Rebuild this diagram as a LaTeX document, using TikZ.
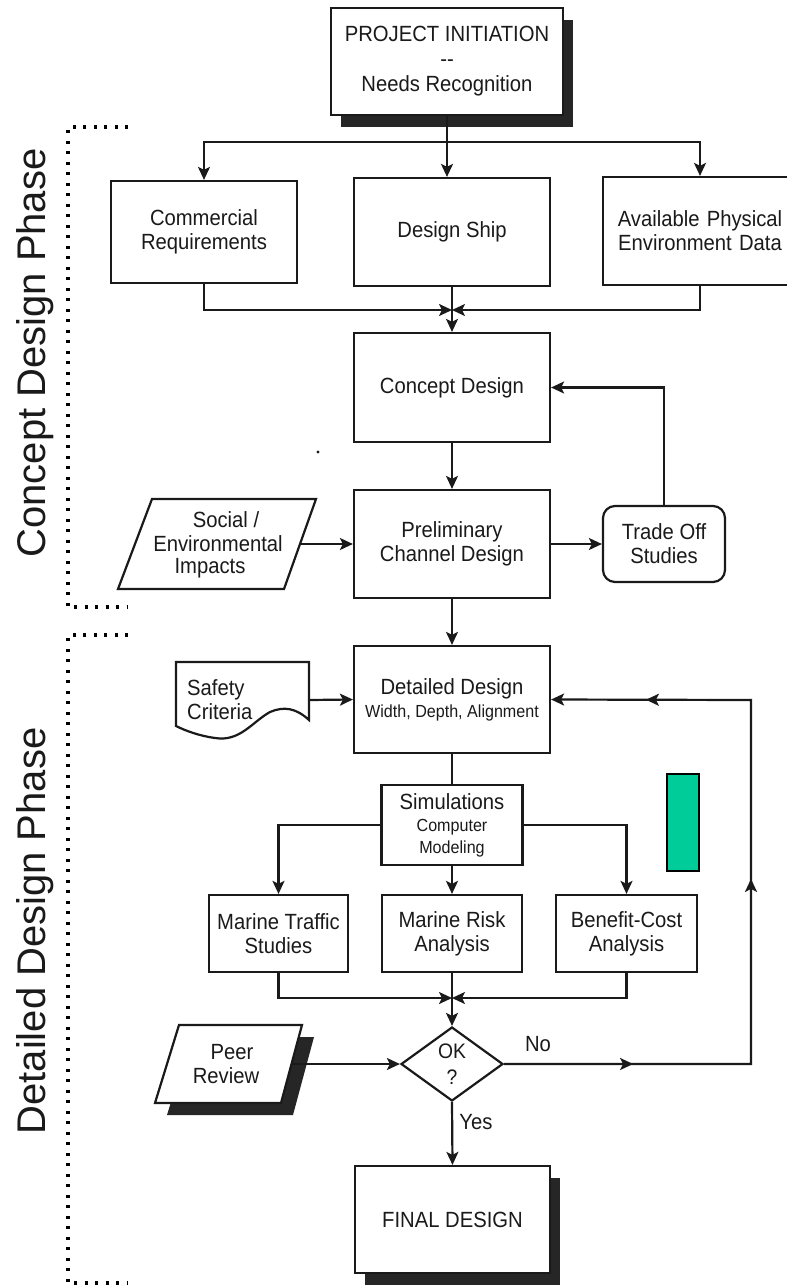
\documentclass[tikz,border=0pt]{standalone}
\usepackage{fontspec}
\setmainfont{Liberation Sans}[FakeStretch=0.92]
\newfontfamily\phasefont{Liberation Sans}
\usetikzlibrary{arrows.meta,shapes.geometric,decorations.markings,shadows}
\definecolor{shadowc}{HTML}{262626}
\definecolor{greenc}{HTML}{00CC99}
\definecolor{inkc}{HTML}{1A1A1A}
\tikzset{
  boxst/.style={draw=inkc, line width=2.2pt, rectangle, fill=white, inner sep=0pt, align=center, text=inkc, font=\fontsize{22}{24}\selectfont},
  shad/.style={drop shadow={opacity=1, fill=shadowc, shadow xshift=10pt, shadow yshift=-12pt}},
  conn/.style={draw=inkc, line width=2.2pt},
  tip/.style={},
  arr/.style={conn, -{Stealth[length=13pt,width=12pt,inset=3pt]}},
  txt/.style={text=inkc, inner sep=0pt, font=\fontsize{22}{24}\selectfont},
  dotline/.style={draw=black, line width=3.5pt, dash pattern=on 3pt off 7.5pt},
  phase/.style={text=inkc, inner sep=0pt, rotate=90, font=\phasefont\fontsize{40}{44}\selectfont},
}
\begin{document}
\begin{tikzpicture}[x=1pt,y=-1pt]
\clip (0,0) rectangle (787,1285);
\fill[white] (0,0) rectangle (787,1285);

% phase brackets and labels
\draw[dotline] (128,127) -- (68,127) -- (68,607) -- (128,607);
\draw[dotline] (128,635) -- (68,635) -- (68,1283) -- (128,1283);
\node[phase] (phase1) at (35,353) {Concept Design Phase};
\node[phase] (phase2) at (35,931) {Detailed Design Phase};

% top
\node[boxst, shad, minimum width=232pt, minimum height=107pt, font=\fontsize{22}{25}\selectfont] (top) at (447,61.5) {PROJECT INITIATION\\{-}{-}\\Needs Recognition};

\node[boxst, minimum width=186pt, minimum height=102pt] (cr) at (204,232) {Commercial\\Requirements};
\node[boxst, minimum width=196pt, minimum height=108pt] (ds) at (452,232) {Design Ship};
\node[boxst, minimum width=194pt, minimum height=108pt, text width=194pt] (ap) at (700,231) {Available Physical\\Environment Data};

\node[boxst, minimum width=196pt, minimum height=109pt] (concept) at (452,387.5) {Concept Design};
\node[boxst, minimum width=196pt, minimum height=108pt] (prelim) at (452,544) {Preliminary\\Channel Design};
\node[boxst, rounded corners=12pt, minimum width=122pt, minimum height=76pt] (trade) at (664,544) {Trade Off\\Studies};

% social / environmental parallelogram
\draw[line width=2.2pt, draw=inkc, fill=white] (152,499) -- (316,499) -- (284,589) -- (118,589) -- cycle;
\node[txt] (soc1) at (226,520) {Social /};
\node[txt] (soc2) at (218,544) {Environmental};
\node[txt] (soc3) at (210,568) {Impacts};
\coordinate (socR) at (300,544);

% stray dot
\fill[inkc] (318,452) circle (1.6pt);

\node[boxst, minimum width=196pt, minimum height=107pt] (detailed) at (452,699.5) {Detailed Design\\[-1pt]{\fontsize{17.5}{19}\selectfont Width, Depth, Alignment}};

% safety criteria document
\draw[line width=2.2pt, draw=inkc, fill=white] (176,662) -- (309,662) -- (309,720)
  .. controls (296,708) and (284,706) .. (270,712)
  .. controls (252,722) and (240,742) .. (215,738)
  .. controls (200,736) and (186,731) .. (176,726) -- cycle;
\node[txt, align=left, anchor=west] (safety) at (187,700) {Safety\\Criteria};
\coordinate (safR) at (309,700);

\node[boxst, minimum width=141pt, minimum height=80pt] (sim) at (452,825) {Simulations\\[-2pt]{\fontsize{17.5}{20}\selectfont Computer}\\[-2pt]{\fontsize{17.5}{20}\selectfont Modeling}};

\node[boxst, minimum width=139pt, minimum height=77pt] (mt) at (278.5,933.5) {Marine Traffic\\Studies};
\node[boxst, minimum width=140pt, minimum height=77pt] (mr) at (452,933.5) {Marine Risk\\Analysis};
\node[boxst, minimum width=141pt, minimum height=77pt] (bc) at (626.5,933.5) {Benefit-Cost\\Analysis};

% green rectangle
\draw[fill=greenc, draw=black, line width=1.5pt] (667,774) rectangle (699,871);

% peer review
\fill[shadowc] (191,1037) -- (314,1037) -- (293,1115) -- (167,1115) -- cycle;
\draw[line width=2.2pt, draw=inkc, fill=white] (179,1025) -- (302,1025) -- (281,1103) -- (155,1103) -- cycle;
\node[txt] (peer1) at (232,1052) {Peer};
\node[txt] (peer2) at (226,1076) {Review};
\coordinate (peerR) at (292,1064);

\node[diamond, draw=inkc, line width=2.2pt, fill=white, minimum width=102pt, minimum height=74pt, inner sep=0pt, align=center, text=inkc, font=\fontsize{21}{26}\selectfont] (ok) at (452,1064) {OK\\?};

\node[boxst, shad, minimum width=195pt, minimum height=107pt] (final) at (452.5,1219.5) {FINAL DESIGN};

% connectors
\coordinate (br) at (447,142);
\draw[conn] (top.south) -- (br);
\draw[arr] (br) -| (cr.north);
\draw[arr] (br) -| (ap.north);
\draw[arr] (br) -- (br |- ds.north);

\coordinate (m1) at (452,310);
\draw[arr] (cr.south) |- (m1);
\draw[arr] (ap.south) |- (m1);
\draw[arr] (ds.south) -- (concept.north);

\draw[arr] (concept.south) -- (prelim.north);
\draw[arr] (socR) -- (prelim.west);
\draw[arr] (prelim.east) -- (trade.west);
\draw[arr] (trade.north) |- (concept.east);
\draw[arr] (prelim.south) -- (detailed.north);
\draw[arr] (safR) -- (detailed.west);
\draw[conn] (detailed.south) -- (sim.north);
\draw[arr] (sim.west) -| (mt.north);
\draw[arr] (sim.east) -| (bc.north);
\draw[arr] (sim.south) -- (mr.north);

\coordinate (m2) at (452,998);
\draw[arr] (mt.south) |- (m2);
\draw[arr] (bc.south) |- (m2);
\draw[arr] (mr.south) -- (ok.north);

\draw[arr] (peerR) -- (ok.west);

\coordinate (nR) at (751,1064);
\coordinate (nT) at (751,700);
\draw[arr, postaction={decorate}, decoration={markings,
   mark=at position 129pt with {\arrow{Stealth[length=13pt,width=12pt,inset=3pt]}},
   mark=at position 432pt with {\arrow{Stealth[length=13pt,width=12pt,inset=3pt]}},
   mark=at position 716pt with {\arrow{Stealth[length=13pt,width=12pt,inset=3pt]}}}]
   (ok.east) -- (nR) -- (nT) -- (detailed.east);
\node[txt] (nolbl) at (538,1044) {No};
\node[txt] (yeslbl) at (476,1122) {Yes};

\draw[arr] (ok.south) -- (final.north);
\end{tikzpicture}
\end{document}
